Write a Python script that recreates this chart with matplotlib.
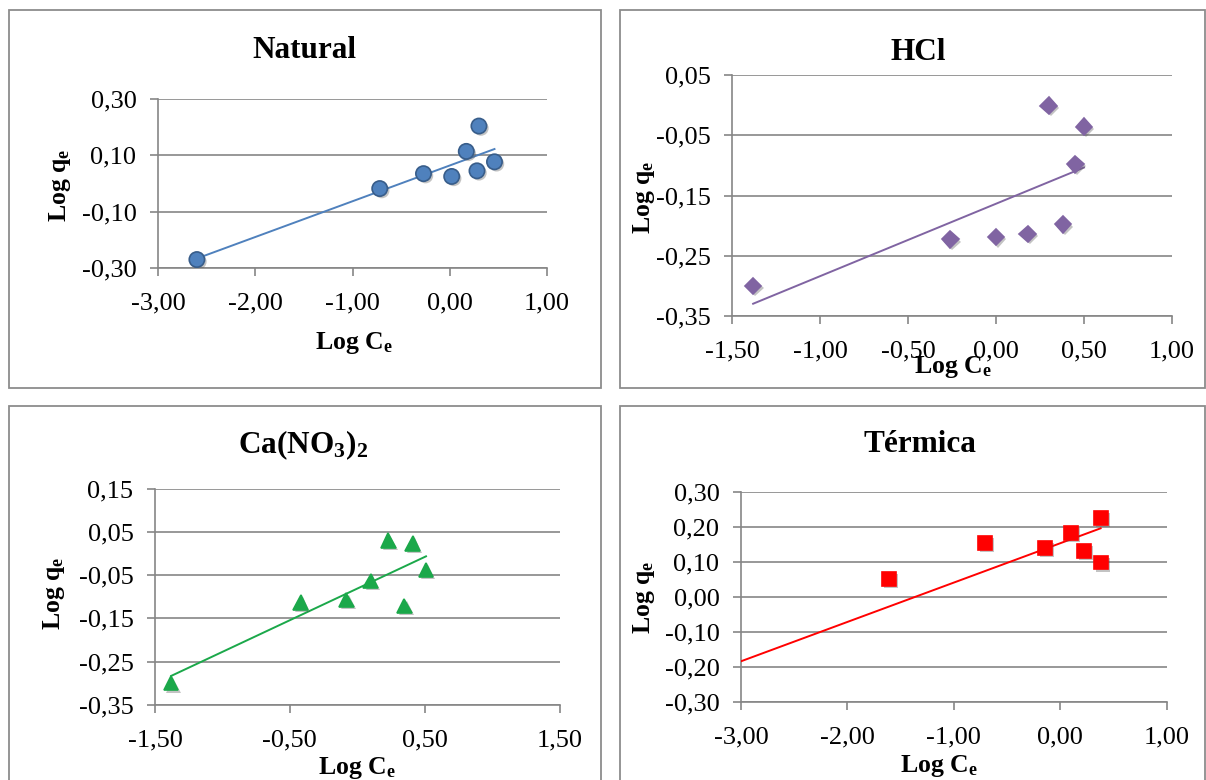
import numpy as np
import matplotlib
matplotlib.use("Agg")
import matplotlib.pyplot as plt
import matplotlib.patheffects as pe
from matplotlib.patches import Rectangle
from matplotlib.ticker import FuncFormatter

plt.rcParams['font.family'] = ['Liberation Serif', 'DejaVu Serif']
plt.rcParams['mathtext.fontset'] = 'custom'
plt.rcParams['mathtext.rm'] = 'Liberation Serif'
plt.rcParams['mathtext.bf'] = 'Liberation Serif:bold'
plt.rcParams['mathtext.it'] = 'Liberation Serif:italic'

# Freundlich linearisation: log Ce vs log qe for each treatment
nat_x = [-2.60, -0.72, -0.27, 0.02, 0.17, 0.28, 0.30, 0.46]
nat_y = [-0.270, -0.018, 0.035, 0.025, 0.114, 0.045, 0.204, 0.077]

hcl_x = [-1.38, -0.26, 0.00, 0.18, 0.30, 0.38, 0.45, 0.50]
hcl_y = [-0.300, -0.223, -0.219, -0.214, -0.001, -0.198, -0.098, -0.036]

ca_x = [-1.38, -0.42, -0.08, 0.10, 0.23, 0.35, 0.41, 0.51]
ca_y = [-0.300, -0.113, -0.107, -0.063, 0.030, -0.121, 0.024, -0.038]

# first point lies left of the -3 axis limit (clipped)
term_x = [-3.38, -1.61, -0.71, -0.14, 0.10, 0.22, 0.38, 0.38]
term_y = [-0.291, 0.051, 0.153, 0.140, 0.182, 0.130, 0.098, 0.226]

nat_xticks = [-3, -2, -1, 0, 1]
nat_yticks = [-0.30, -0.10, 0.10, 0.30]
hcl_xticks = [-1.5, -1.0, -0.5, 0.0, 0.5, 1.0]
hcl_yticks = [-0.35, -0.25, -0.15, -0.05, 0.05]
ca_xticks = [-1.5, -0.5, 0.5, 1.5]
ca_yticks = [-0.35, -0.25, -0.15, -0.05, 0.05, 0.15]
term_xticks = [-3, -2, -1, 0, 1]
term_yticks = [-0.30, -0.20, -0.10, 0.00, 0.10, 0.20, 0.30]

titles = ["Natural", "HCl", r"Ca(NO$_\mathbf{3}$)$_\mathbf{2}$", "Térmica"]

W, H = 1206, 780
GRID = '#868686'


def px_rect(x0, y0, x1, y1):
    return [x0 / W, 1 - y1 / H, (x1 - x0) / W, (y1 - y0) / H]


def px(x, y):
    return x / W, 1 - y / H


def comma(v, pos=None):
    if abs(v) < 1e-9:
        v = 0.0
    return f"{v:.2f}".replace('.', ',')


fig = plt.figure(figsize=(W / 100, H / 100), dpi=100)

# chart-area frames
for r in [(8.5, 10, 601, 388), (620, 10, 1205, 388),
          (8.5, 406, 601, 800), (620, 406, 1205, 800)]:
    fig.patches.append(Rectangle((r[0] / W, 1 - r[3] / H), (r[2] - r[0]) / W, (r[3] - r[1]) / H,
                                 transform=fig.transFigure, fill=False,
                                 edgecolor='#8c8c8c', linewidth=1.3))

panels = [
    dict(x=nat_x, y=nat_y, xt=nat_xticks, yt=nat_yticks, rect=(158, 99, 547, 268),
         color='#4F81BD', edge='#385D8A', marker='o', ms=11,
         title=(304, 50), xlab=(354, 343), ylab=(60, 185)),
    dict(x=hcl_x, y=hcl_y, xt=hcl_xticks, yt=hcl_yticks, rect=(732, 75, 1172, 316),
         color='#8064A2', edge='#8064A2', marker='D', ms=8.5,
         title=(918, 52), xlab=(953, 367), ylab=(644, 197)),
    dict(x=ca_x, y=ca_y, xt=ca_xticks, yt=ca_yticks, rect=(155, 489, 559.5, 704.7),
         color='#1BA84A', edge='#1BA84A', marker='^', ms=10.5,
         title=(303, 445), xlab=(357, 768), ylab=(54, 593)),
    dict(x=term_x, y=term_y, xt=term_xticks, yt=term_yticks, rect=(741, 491.7, 1166.6, 702),
         color='#FF0000', edge='#FF0000', marker='s', ms=10,
         title=(920, 445), xlab=(939, 766), ylab=(644, 597)),
]

for p, title in zip(panels, titles):
    ax = fig.add_axes(px_rect(*p['rect']))
    x = np.array(p['x'])
    y = np.array(p['y'])

    # linear trendline
    coef = np.polyfit(x, y, 1)
    xs = np.array([x.min(), x.max()])
    ax.plot(xs, np.polyval(coef, xs), color=p['color'], lw=1.4, zorder=3)

    ax.plot(x, y, linestyle='none', marker=p['marker'], ms=p['ms'],
            markerfacecolor=p['color'], markeredgecolor=p['edge'], markeredgewidth=1.2,
            zorder=4,
            path_effects=[pe.SimplePatchShadow(offset=(1.5, -1.5), shadow_rgbFace='#555555', alpha=0.35),
                          pe.Normal()])

    ax.set_xlim(p['xt'][0], p['xt'][-1])
    ax.set_ylim(p['yt'][0], p['yt'][-1])
    ax.set_xticks(p['xt'])
    ax.set_yticks(p['yt'])
    ax.xaxis.set_major_formatter(FuncFormatter(comma))
    ax.yaxis.set_major_formatter(FuncFormatter(comma))
    ax.tick_params(axis='both', direction='out', length=5.5, width=1.2, color=GRID,
                   labelsize=19, pad=10)
    ax.tick_params(axis='x', pad=12)
    ax.grid(axis='y', color=GRID, linewidth=1.2)
    ax.set_axisbelow(True)
    for s in ['top', 'right']:
        ax.spines[s].set_visible(False)
    for s in ['left', 'bottom']:
        ax.spines[s].set_color(GRID)
        ax.spines[s].set_linewidth(1.2)
    ax.patch.set_alpha(0)

    fx, fy = px(*p['title'])
    fig.text(fx, fy, title, ha='center', va='center', fontsize=22.5, fontweight='bold')

    ax.set_xlabel(r"Log C$_\mathbf{e}$", fontsize=18.5, fontweight='bold')
    ax.xaxis.set_label_coords(*px(*p['xlab']), transform=fig.transFigure)
    ax.xaxis.label.set_va('center')
    ax.set_ylabel(r"Log q$_\mathbf{e}$", fontsize=18.5, fontweight='bold')
    ax.yaxis.set_label_coords(*px(*p['ylab']), transform=fig.transFigure)
    ax.yaxis.label.set_va('center')
    ax.yaxis.label.set_ha('center')

fig.savefig("out.png", dpi=100)
